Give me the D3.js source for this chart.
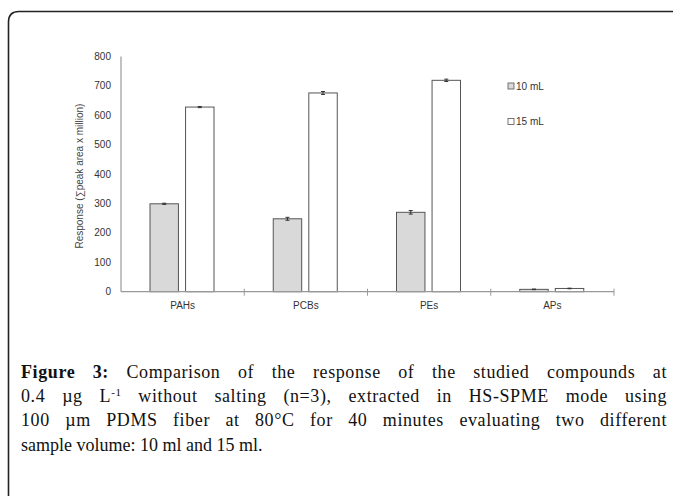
<!DOCTYPE html>
<html>
<head>
<meta charset="utf-8">
<script src="https://cdn.jsdelivr.net/npm/d3@7"></script>
<style>
  html, body { margin: 0; padding: 0; background: #fff; }
  svg { display: block; }
</style>
</head>
<body>
<div id="chart"></div>
<script>
// data
var categories = ["PAHs", "PCBs", "PEs", "APs"];
var seriesNames = ["10 mL", "15 mL"];
var vol10 = [299, 248, 270, 8];
var vol15 = [628, 676, 719, 11];
var err10 = [2, 5, 6, 1];
var err15 = [2, 5, 4, 1];
var yTicks = [0, 100, 200, 300, 400, 500, 600, 700, 800];
var captionLines = [
  [{t: "Figure 3:", b: true}, {t: " Comparison of the response of the studied compounds at"}],
  [{t: "0.4 \u00b5g L"}, {t: "-1", sup: true}, {t: " without salting (n=3), extracted in HS-SPME mode using"}],
  [{t: "100 \u00b5m PDMS fiber at 80\u00b0C for 40 minutes evaluating two different"}],
  [{t: "sample volume: 10 ml and 15 ml."}]
];

var W = 673, H = 496;
var svg = d3.select("#chart").append("svg").attr("width", W).attr("height", H);

// frame around the figure (runs off right/bottom)
svg.append("path")
  .attr("d", "M8.5,496 L8.5,22 Q8.5,11.5 19,11.5 L673,11.5")
  .attr("fill", "none").attr("stroke", "#222").attr("stroke-width", 1.6);

var x0 = 121, x1 = 614, yTop = 56.5, yBot = 291.7;

var x = d3.scaleBand().domain(categories).range([x0, x1]).padding(0);
var xs = d3.scaleBand().domain(seriesNames).range([29, 93]).paddingInner(0.2);
var y = d3.scaleLinear().domain([0, 800]).range([yBot, yTop]);

var rows = categories.map(function(c, i){
  return {cat: c, vals: [
    {s: "10 mL", v: vol10[i], e: err10[i], fill: "#d9d9d9"},
    {s: "15 mL", v: vol15[i], e: err15[i], fill: "#ffffff"}
  ]};
});

// y axis line + labels (no tick marks visible)
svg.append("line").attr("x1", x0).attr("x2", x0).attr("y1", y(800)).attr("y2", y(0))
  .attr("stroke", "#999").attr("stroke-width", 1.2);
svg.selectAll(".ylab").data(yTicks).enter().append("text")
  .attr("x", x0 - 10).attr("y", function(d){ return y(d) + 3.5; })
  .attr("text-anchor", "end")
  .style("font-family", "Liberation Sans, Arial, sans-serif").style("font-size", "10px")
  .attr("fill", "#333")
  .text(function(d){ return d; });

svg.append("text")
  .attr("transform", "translate(83," + ((y(0) + y(800)) / 2 + 2) + ") rotate(-90)")
  .attr("text-anchor", "middle")
  .style("font-family", "Liberation Sans, Arial, sans-serif").style("font-size", "10px")
  .attr("fill", "#444")
  .text("Response (\u2211peak area x million)");

// bars
var g = svg.selectAll(".cat").data(rows).enter().append("g")
  .attr("transform", function(d){ return "translate(" + x(d.cat) + ",0)"; });

g.selectAll("rect").data(function(d){ return d.vals; }).enter().append("rect")
  .attr("x", function(d){ return xs(d.s); })
  .attr("width", xs.bandwidth())
  .attr("y", function(d){ return y(d.v); })
  .attr("height", function(d){ return y(0) - y(d.v); })
  .attr("fill", function(d){ return d.fill; })
  .attr("stroke", "#555").attr("stroke-width", 1);

// error bars
var eb = g.selectAll(".eb").data(function(d){ return d.vals; }).enter().append("g");
eb.append("line")
  .attr("x1", function(d){ return xs(d.s) + xs.bandwidth() / 2; })
  .attr("x2", function(d){ return xs(d.s) + xs.bandwidth() / 2; })
  .attr("y1", function(d){ return y(d.v + d.e); })
  .attr("y2", function(d){ return y(d.v - d.e); })
  .attr("stroke", "#333").attr("stroke-width", 1);
eb.selectAll(".cap").data(function(d){ return [[d, d.v + d.e], [d, d.v - d.e]]; }).enter().append("line")
  .attr("x1", function(p){ return xs(p[0].s) + xs.bandwidth() / 2 - 2; })
  .attr("x2", function(p){ return xs(p[0].s) + xs.bandwidth() / 2 + 2; })
  .attr("y1", function(p){ return y(p[1]); })
  .attr("y2", function(p){ return y(p[1]); })
  .attr("stroke", "#333").attr("stroke-width", 1);

// x axis
svg.append("line").attr("x1", x0).attr("x2", x1).attr("y1", y(0)).attr("y2", y(0))
  .attr("stroke", "#999").attr("stroke-width", 1.2);
var bounds = categories.map(function(c){ return x(c) + x.bandwidth(); });
svg.selectAll(".xt").data(bounds).enter().append("line")
  .attr("x1", function(d){ return d; }).attr("x2", function(d){ return d; })
  .attr("y1", y(0) - 3).attr("y2", y(0) + 4)
  .attr("stroke", "#999").attr("stroke-width", 1);
svg.selectAll(".xlab").data(categories).enter().append("text")
  .attr("x", function(d){ return x(d) + x.bandwidth() / 2; })
  .attr("y", y(0) + 17)
  .attr("text-anchor", "middle")
  .style("font-family", "Liberation Sans, Arial, sans-serif").style("font-size", "10px")
  .attr("fill", "#333")
  .text(function(d){ return d; });

// legend
var lg = svg.selectAll(".lg").data(seriesNames).enter().append("g")
  .attr("transform", function(d, i){ return "translate(508," + (83 + i * 35.5) + ")"; });
lg.append("rect").attr("width", 6).attr("height", 6)
  .attr("fill", function(d, i){ return i === 0 ? "#d9d9d9" : "#fff"; })
  .attr("stroke", "#555").attr("stroke-width", 0.8);
lg.append("text").attr("x", 8).attr("y", 6.5)
  .style("font-family", "Liberation Sans, Arial, sans-serif").style("font-size", "10px")
  .attr("fill", "#333")
  .text(function(d){ return d; });

// caption, justified like the journal layout
var capLeft = 21, capRight = 667, capBase = 378, capStep = 24.2;
captionLines.forEach(function(parts, li){
  var last = li === captionLines.length - 1;
  var t = svg.append("text")
    .attr("x", capLeft).attr("y", capBase + li * capStep)
    .style("font-family", "Liberation Serif, Times New Roman, serif").style("font-size", "18px")
    .style("letter-spacing", last ? "0px" : "0.6px")
    .attr("fill", "#111");
  parts.forEach(function(p, pi){
    var s = t.append("tspan").text(p.t);
    if (p.b) s.style("font-weight", "bold");
    if (p.sup) s.attr("dy", -6).style("font-size", "11px");
    else if (pi > 0 && parts[pi - 1].sup) s.attr("dy", 6);
  });
  if (!last) {
    var full = parts.map(function(p){ return p.t; }).join("");
    var spaces = (full.match(/ /g) || []).length;
    var extra = capRight - capLeft - t.node().getComputedTextLength();
    t.style("word-spacing", (extra / spaces) + "px");
  }
});
</script>
</body>
</html>
